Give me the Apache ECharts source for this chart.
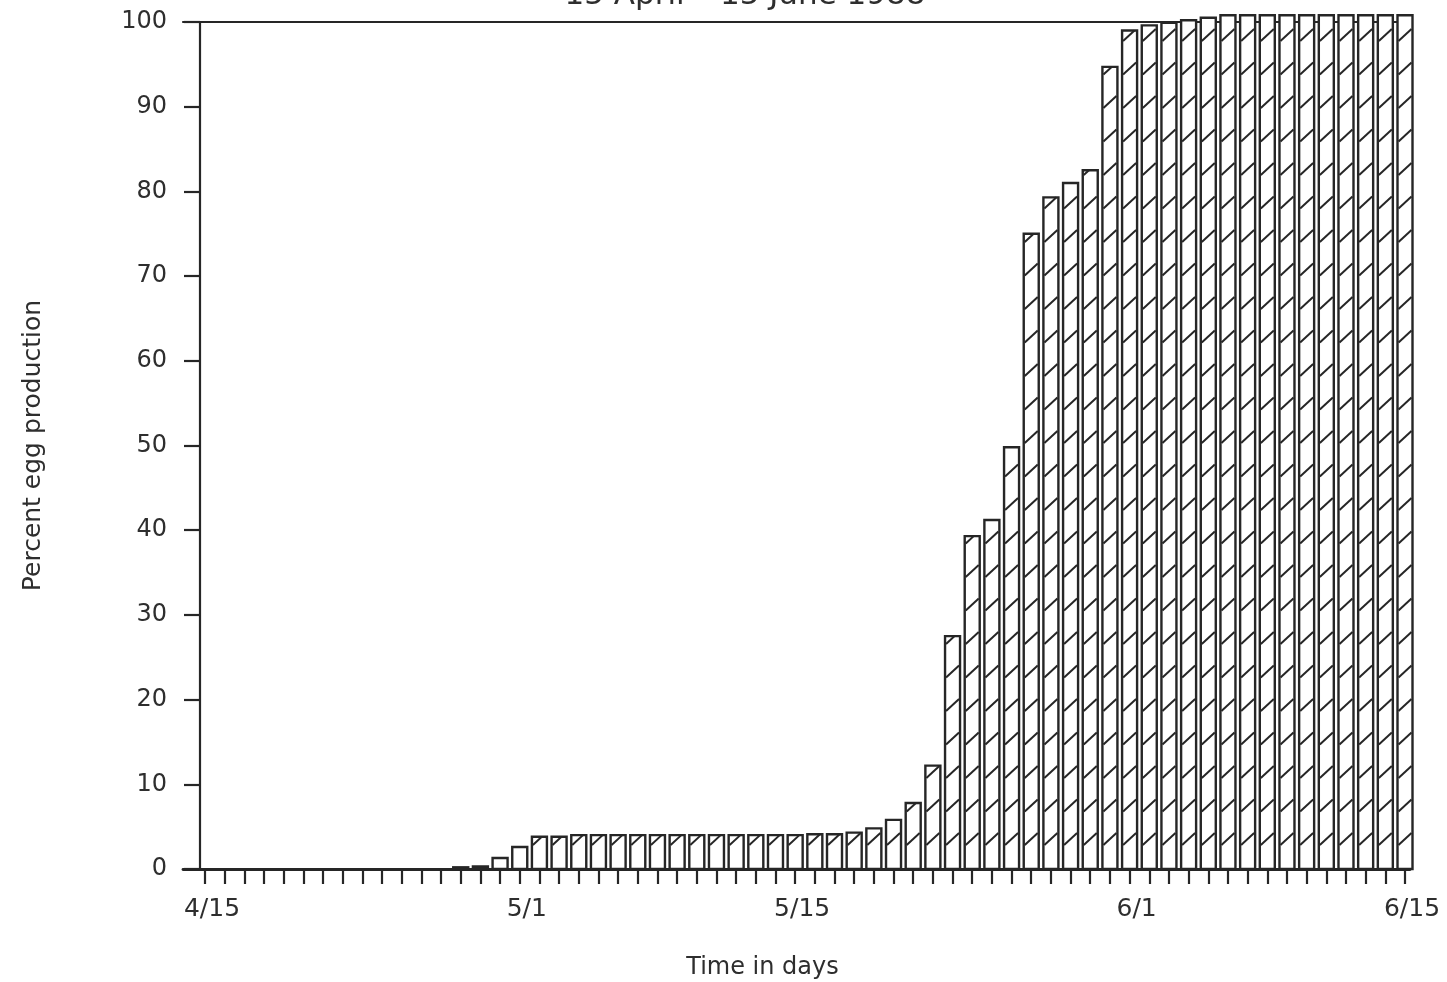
<!DOCTYPE html>
<html>
<head>
<meta charset="utf-8">
<title>Percent egg production</title>
<script src="https://cdn.jsdelivr.net/npm/echarts@6/dist/echarts.min.js"></script>
<style>
  html, body { margin: 0; padding: 0; background: #ffffff; }
  #chart { width: 1447px; height: 982px; }
</style>
</head>
<body>
<div id="chart"></div>
<script>
// Daily dates, 15 April to 15 June
const days = [
  '4/15','4/16','4/17','4/18','4/19','4/20','4/21','4/22','4/23','4/24','4/25','4/26','4/27','4/28','4/29','4/30',
  '5/1','5/2','5/3','5/4','5/5','5/6','5/7','5/8','5/9','5/10','5/11','5/12','5/13','5/14','5/15',
  '5/16','5/17','5/18','5/19','5/20','5/21','5/22','5/23','5/24','5/25','5/26','5/27','5/28','5/29','5/30','5/31',
  '6/1','6/2','6/3','6/4','6/5','6/6','6/7','6/8','6/9','6/10','6/11','6/12','6/13','6/14','6/15'
];

// Cumulative percent of egg production for each day
const percentEggs = [
  0, 0, 0, 0, 0, 0, 0, 0, 0, 0, 0, 0, 0,
  0.2, 0.3, 1.3, 2.6, 3.8, 3.8,
  4.0, 4.0, 4.0, 4.0, 4.0, 4.0, 4.0, 4.0, 4.0, 4.0, 4.0, 4.0, 4.1, 4.1,
  4.3, 4.8, 5.8, 7.8, 12.2, 27.5, 39.3, 41.2, 49.8, 75.0, 79.3, 81.0, 82.5, 94.7,
  99.0, 99.6, 99.9, 100.2, 100.5,
  100.8, 100.8, 100.8, 100.8, 100.8, 100.8, 100.8, 100.8, 100.8, 100.8
];

// Dates that carry a tick label
const labelledDays = ['4/15', '5/1', '5/15', '6/1', '6/15'];

const titleText = '15 April \u2013 15 June 1988';
const xName = 'Time in days';
const yName = 'Percent egg production';

const INK = '#262626';
const TEXT = '#2e2e2e';
const FONT = '"DejaVu Sans", Verdana, sans-serif';
const BAR_W = 15;
const HATCH_PERIOD = 33.5;
const HATCH_PHASE = 24;
const HATCH_RISE = 12;

const dayIndex = days.map((d, i) => i);
const labelIndex = labelledDays.map(d => days.indexOf(d));
const seriesData = percentEggs.map((v, i) => [i, v]);

// Outlined bar with diagonal hatching, positioned via the axis scales
function renderHatchedBar(params, api) {
  const idx = api.value(0);
  const val = api.value(1);
  if (!val) return null;
  const base = api.coord([idx, 0]);
  const top = api.coord([idx, val]);
  const xl = base[0] - BAR_W / 2;
  const xr = base[0] + BAR_W / 2;
  const yTop = top[1];
  const yBase = base[1];
  const children = [{
    type: 'rect',
    shape: { x: xl, y: yTop, width: BAR_W, height: yBase - yTop },
    style: { fill: '#ffffff', stroke: INK, lineWidth: 2.4 }
  }];
  const inL = xl + 1, inR = xr - 1;
  for (let y0 = yBase - HATCH_PHASE; y0 > yTop + 1; y0 -= HATCH_PERIOD) {
    let x2 = inR, y2 = y0 - HATCH_RISE;
    if (y2 < yTop) {
      const t = (y0 - yTop) / HATCH_RISE;
      x2 = inL + t * (inR - inL);
      y2 = yTop;
    }
    children.push({
      type: 'line',
      shape: { x1: inL, y1: y0, x2: x2, y2: y2 },
      style: { stroke: INK, lineWidth: 2 }
    });
  }
  return { type: 'group', children: children };
}

const chart = echarts.init(document.getElementById('chart'), null, { renderer: 'canvas' });

const X_MIN = -1.118;
const X_MAX = 61.254;

chart.setOption({
  animation: false,
  backgroundColor: '#ffffff',
  textStyle: { fontFamily: FONT },
  graphic: [{
    type: 'text',
    x: 745,
    y: -4,
    style: {
      text: titleText,
      fill: TEXT,
      font: '31px ' + FONT,
      align: 'center',
      verticalAlign: 'middle',
      textAlign: 'center',
      textVerticalAlign: 'middle'
    }
  }],
  grid: {
    left: 183,
    right: 37,
    top: 22,
    bottom: 113,
    containLabel: false,
    outerBoundsMode: 'none'
  },
  xAxis: [{
    type: 'value',
    position: 'bottom',
    min: X_MIN,
    max: X_MAX,
    name: xName,
    nameLocation: 'middle',
    nameGap: 87,
    nameTextStyle: { fontSize: 24, color: TEXT, fontFamily: FONT, padding: [0, 68, 0, 0] },
    axisLine: { show: true, onZero: false, lineStyle: { color: INK, width: 2.8 } },
    axisTick: { show: true, customValues: dayIndex, length: 15, lineStyle: { color: INK, width: 2.2 } },
    axisLabel: {
      show: true,
      customValues: labelIndex,
      formatter: v => days[Math.round(v)],
      margin: 28,
      fontSize: 25,
      color: TEXT,
      fontFamily: FONT,
      padding: [0, 0, 0, 14]
    },
    splitLine: { show: false }
  }, {
    type: 'value',
    position: 'top',
    min: X_MIN,
    max: X_MAX,
    axisLine: { show: true, onZero: false, lineStyle: { color: INK, width: 2.2 } },
    axisTick: { show: false },
    axisLabel: { show: false },
    splitLine: { show: false }
  }],
  yAxis: {
    type: 'value',
    min: 0,
    max: 100,
    interval: 10,
    offset: -17,
    name: yName,
    nameLocation: 'middle',
    nameGap: 154,
    nameTextStyle: { fontSize: 25, color: TEXT, fontFamily: FONT },
    axisLine: { show: true, onZero: false, lineStyle: { color: INK, width: 2.2 } },
    axisTick: { show: true, length: 16, lineStyle: { color: INK, width: 2.2 } },
    axisLabel: { margin: 33, fontSize: 24, color: TEXT, fontFamily: FONT },
    splitLine: { show: false }
  },
  series: [{
    type: 'custom',
    xAxisIndex: 0,
    yAxisIndex: 0,
    clip: false,
    encode: { x: 0, y: 1 },
    data: seriesData,
    renderItem: renderHatchedBar
  }]
});
</script>
</body>
</html>
